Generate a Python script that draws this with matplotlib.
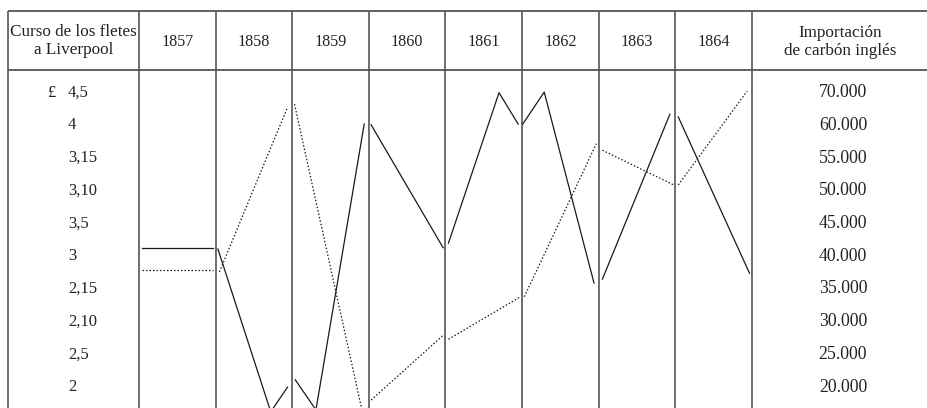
import numpy as np
import matplotlib
matplotlib.use("Agg")
import matplotlib.pyplot as plt

plt.rcParams['font.family'] = ['Liberation Serif', 'DejaVu Serif']

# years shown as table columns
years = [1857, 1858, 1859, 1860, 1861, 1862, 1863, 1864]

# freight to Liverpool, in shillings (2 = 40s ... 4,5 = 85s), points inside each year
freight_frac = [[0.04, 0.96], [0.03, 0.72, 0.94], [0.04, 0.31, 0.94], [0.03, 0.97],
                [0.04, 0.70, 0.95], [0.01, 0.29, 0.94], [0.05, 0.93], [0.04, 0.97]]
freight_shillings = [[61.3, 61.3], [61.1, 36.2, 40.0], [41.1, 36.5, 80.2], [80.1, 61.3],
                     [62.0, 85.0, 80.2], [80.2, 85.1, 55.9], [56.5, 81.7], [81.3, 57.4]]

# english coal imports, thousands
import_frac = [[0.04, 0.96], [0.05, 0.94], [0.03, 0.91], [0.03, 0.97],
               [0.04, 0.98], [0.03, 0.97], [0.05, 0.98], [0.04, 0.94]]
import_thousands = [[37.9, 37.9], [37.6, 65.6], [66.5, 16.5], [18.0, 27.9],
                    [27.3, 33.8], [33.8, 57.2], [56.2, 50.9], [50.9, 70.5]]

freight_labels = ['4,5', '4', '3,15', '3,10', '3,5', '3', '2,15', '2,10', '2,5', '2']
freight_label_vals = [85, 80, 75, 70, 65, 60, 55, 50, 45, 40]
import_labels = ['70.000', '60.000', '55.000', '50.000', '45.000',
                 '40.000', '35.000', '30.000', '25.000', '20.000']
import_label_vals = [70, 60, 55, 50, 45, 40, 35, 30, 25, 20]


# import scale is uneven at the top (60 -> 70 spans one row)
def imp_scale(t):
    t = np.asarray(t, dtype=float)
    r = np.where(t <= 60, (t - 20) / 5.0, 8 + (t - 60) / 10.0)
    return 40 + 5 * r


# layout helpers: pixel -> data
colw = 76.6
rowh = 32.7
def px(p):
    return 1857 + (p - 139) / colw
def py(p):
    return 40 + 5 * (387 - p) / rowh


fig = plt.figure(figsize=(9.27, 4.08), dpi=100)
ax = fig.add_axes([0, 0, 1, 1])
ax.set_xlim(px(0), px(927))
ax.set_ylim(py(408), py(0))
ax.axis('off')

grid_c = '#555555'
txt_c = '#222222'

# table rules
y_top, y_head = py(11), py(70)
ax.plot([px(8), px(927)], [y_top, y_top], color=grid_c, lw=1.3, solid_capstyle='butt')
ax.plot([px(8), px(927)], [y_head, y_head], color=grid_c, lw=1.3, solid_capstyle='butt')
for xv in [px(8)] + list(range(years[0], years[-1] + 2)):
    ax.plot([xv, xv], [y_top, py(408)], color=grid_c, lw=1.2, solid_capstyle='butt')

# headers
ax.text(px(73.5), py(41), 'Curso de los fletes\na Liverpool', ha='center', va='center',
        fontsize=12.3, color=txt_c, linespacing=1.1)
for yr in years:
    ax.text(yr + 0.5, py(42), str(yr), ha='center', va='center', fontsize=11.6, color=txt_c)
ax.text(px(840), py(42), 'Importación\nde carbón inglés', ha='center', va='center',
        fontsize=12.3, color=txt_c, linespacing=1.1)

# row labels
for lab, v in zip(freight_labels, freight_label_vals):
    ax.text(px(68), v, lab, ha='left', va='center', fontsize=12, color=txt_c)
ax.text(px(47), freight_label_vals[0], '£', ha='left', va='center', fontsize=12, color=txt_c)
for lab, v in zip(import_labels, import_label_vals):
    ax.text(px(843), imp_scale(v), lab, ha='center', va='center', fontsize=12.8, color=txt_c)

# data lines, one piece per year column
for yr, fr, val in zip(years, freight_frac, freight_shillings):
    ax.plot(yr + np.array(fr), val, color='#1a1a1a', lw=0.9)
for yr, fr, val in zip(years, import_frac, import_thousands):
    ax.plot(yr + np.array(fr), imp_scale(val), color='#1a1a1a', lw=0.9,
            linestyle=(0, (1.2, 1.6)))

fig.savefig('out.png', dpi=100)
